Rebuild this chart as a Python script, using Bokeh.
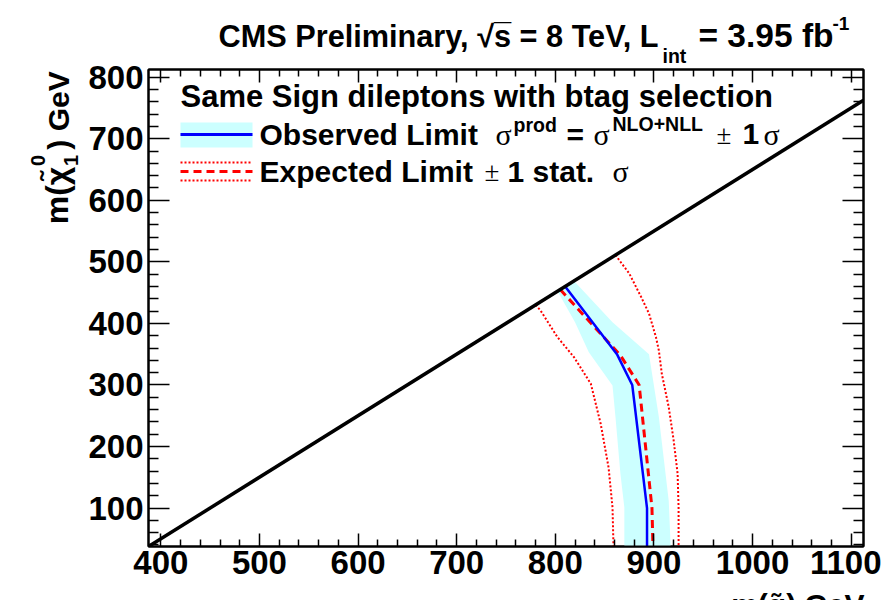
import math

from bokeh.plotting import figure
from bokeh.layouts import column, row
from bokeh.models import Range1d, LinearAxis, FixedTicker, Label, Arrow
from bokeh.embed import file_html
from bokeh.resources import INLINE

# ---------------------------------------------------------------- data (GeV)
x_range_gev = [387.5, 1112.5]          # m(gluino)
y_range_gev = [37.5, 812.5]            # m(neutralino)

x_major_ticks = [400, 500, 600, 700, 800, 900, 1000, 1100]
y_major_ticks = [100, 200, 300, 400, 500, 600, 700, 800]

# kinematic boundary m(gluino) - m(neutralino) = 350 GeV
diag_x = [387.5, 1112.5]
diag_y = [37.5, 762.5]

# observed limit
obs_x = [810, 862.5, 878, 893, 893]
obs_y = [460, 350, 300, 100, 37.5]

# observed limit, theory +-1 sigma band (low / high mass edges)
band_lo_x = [802, 820, 834, 858, 861, 866, 870, 870]
band_lo_y = [453, 402, 353, 299, 248, 156, 101, 37.5]
band_hi_x = [819, 858, 895, 905, 915, 917]
band_hi_y = [469, 402, 350, 248, 112, 37.5]

# expected limit and its +-1 sigma (stat.) contours
exp_x = [805, 866, 885, 898, 899]
exp_y = [455, 348, 300, 100, 37.5]

exp_dn_x = [780, 785, 802, 819, 836, 846, 854, 858, 859]
exp_dn_y = [430, 421, 378, 345, 302, 237, 166, 101, 37.5]

exp_up_x = [861, 875, 887, 895, 902, 905, 908, 915, 920, 924, 925, 925]
exp_up_y = [511, 481, 443, 416, 378, 356, 318, 264, 210, 156, 101, 37.5]

# ---------------------------------------------------------------- layout
W, H = 881, 600
FL, FR, FT, FB = 148, 863, 69, 546     # plot frame edges on the page
TOP_H = 64                             # header strip
BOT_H = 10                             # strip holding the x title
LEFT_W = 80                            # strip holding the y title
MAIN_H = H - TOP_H - BOT_H
MAIN_W = W - LEFT_W

BAND_COLOR = "#ccffff"
SANS = "Liberation Sans"
SERIF = "Liberation Serif"
MID = 0.35                             # baseline sits this many em below the text centre


def text_strip(width, height):
    f = figure(width=width, height=height, x_range=Range1d(0, 1), y_range=Range1d(0, 1),
               x_axis_type=None, y_axis_type=None, output_backend="svg",
               toolbar_location=None, min_border=0)
    f.outline_line_color = None
    f.background_fill_color = "white"
    f.border_fill_color = "white"
    return f


p = figure(width=MAIN_W, height=MAIN_H,
           x_range=Range1d(*x_range_gev), y_range=Range1d(*y_range_gev),
           x_axis_type=None, y_axis_type=None,
           output_backend="svg", toolbar_location=None,
           min_border_left=FL - LEFT_W, min_border_right=W - FR,
           min_border_top=FT - TOP_H, min_border_bottom=TOP_H + MAIN_H - FB)
p.background_fill_color = "white"
p.border_fill_color = "white"
p.outline_line_color = "black"
p.outline_line_width = 2


def minor_from(major, lo, hi, step=20):
    vals = []
    v = major[0] - 100
    while v <= major[-1] + 100:
        if lo <= v <= hi and v not in major:
            vals.append(v)
        v += step
    return vals


def make_axis(major, minor, tick_major, tick_minor, labels, standoff=6):
    ax = LinearAxis(ticker=FixedTicker(ticks=major, minor_ticks=minor))
    ax.axis_line_color = "black"
    ax.axis_line_width = 2
    ax.major_tick_in = tick_major
    ax.major_tick_out = 0
    ax.minor_tick_in = tick_minor
    ax.minor_tick_out = 0
    ax.major_tick_line_color = "black"
    ax.major_tick_line_width = 1.5
    ax.minor_tick_line_color = "black"
    ax.minor_tick_line_width = 1.5
    ax.axis_label = None
    if labels:
        ax.major_label_text_font = SANS
        ax.major_label_text_font_style = "bold"
        ax.major_label_text_font_size = "33px"
        ax.major_label_text_color = "black"
        ax.major_label_standoff = standoff
    else:
        ax.major_label_text_font_size = "0px"
        ax.major_label_text_alpha = 0
        ax.major_label_standoff = 0
    return ax


x_minor = minor_from(x_major_ticks, *x_range_gev)
y_minor = minor_from(y_major_ticks, *y_range_gev)

p.add_layout(make_axis(x_major_ticks, x_minor, 13, 7, True, 4), "below")
p.add_layout(make_axis(x_major_ticks, x_minor, 13, 7, False), "above")
p.add_layout(make_axis(y_major_ticks, y_minor, 21, 10, True, 5), "left")
p.add_layout(make_axis(y_major_ticks, y_minor, 21, 10, False), "right")

# ---------------------------------------------------------------- curves
p.patch(band_lo_x + band_hi_x[::-1], band_lo_y + band_hi_y[::-1],
        fill_color=BAND_COLOR, line_color=None)
p.line(exp_dn_x, exp_dn_y, line_color="red", line_width=2, line_dash="2 2")
p.line(exp_up_x, exp_up_y, line_color="red", line_width=2, line_dash="2 2")
p.line(exp_x, exp_y, line_color="red", line_width=3, line_dash="8 5")
p.line(obs_x, obs_y, line_color="blue", line_width=2.5)
p.line(diag_x, diag_y, line_color="black", line_width=3.5)


# ---------------------------------------------------------------- texts
class Writer:
    """Places labels from page pixel positions (x right, y down)."""

    def __init__(self, fig, left, bottom):
        self.fig, self.left, self.bottom = fig, left, bottom

    def put(self, text, X, Y, size, bold=True, serif=False, align="left"):
        # (X, Y) is the start (or end) of the baseline
        self.fig.add_layout(Label(
            x=X - self.left, y=self.bottom - (Y - MID * size),
            x_units="screen", y_units="screen",
            text=text, text_font=SERIF if serif else SANS,
            text_font_style="bold" if bold else "normal",
            text_font_size=f"{size}px", text_align=align,
            text_baseline="middle", text_color="black"))

    def put_up(self, text, X, Yc, size, bold=True):
        # text read bottom-to-top; X is the baseline, Yc the middle of the run
        self.fig.add_layout(Label(
            x=(X - MID * size) - self.left, y=self.bottom - Yc,
            x_units="screen", y_units="screen",
            text=text, text_font=SANS,
            text_font_style="bold" if bold else "normal",
            text_font_size=f"{size}px", text_align="center",
            text_baseline="middle", text_color="black", angle=math.pi / 2))

    def hline(self, X0, X1, Y, color, width, dash):
        self.fig.add_layout(Arrow(
            end=None, x_start=X0 - self.left, y_start=self.bottom - Y,
            x_end=X1 - self.left, y_end=self.bottom - Y,
            start_units="screen", end_units="screen",
            line_color=color, line_width=width, line_dash=dash, line_cap="butt"))


top = text_strip(W, TOP_H)
side = text_strip(LEFT_W, MAIN_H)
bottom = text_strip(W, BOT_H)

head = Writer(top, 0, TOP_H)
ylab = Writer(side, 0, FB)      # the side strip's frame lines up with the plot frame
xlab = Writer(bottom, 0, H)
leg = Writer(p, FL, FB)

# header
head.put("CMS Preliminary, \u221as\u0305 = 8 TeV, L", 218, 47, 30.7)
head.put("int", 662, 62, 19.5)
head.put("= 3.95 fb", 698, 47, 33.5)
head.put("-1", 832, 30, 19)

# axis titles
xlab.put("m(g\u0303) GeV", 864, 612, 30, align="right")
ylab.put_up(") GeV", 68, 110, 30)
ylab.put_up("0", 44, 160, 20)
ylab.put_up("1", 77, 160, 20)
ylab.put_up("m(\u03c7\u0303", 68, 195, 32)

# legend header and entries
leg.put("Same Sign dileptons with btag selection", 180, 107, 31)

leg.put("Observed Limit", 259, 144, 30)
leg.put("\u03c3", 495, 144, 30, bold=False, serif=True)
leg.put("prod", 513, 131, 19.5)
leg.put("=", 566, 144, 30)
leg.put("\u03c3", 593, 144, 30, bold=False, serif=True)
leg.put("NLO+NLL", 612, 130, 19.5)
leg.put("\u00b1", 716, 144, 27, bold=False, serif=True)
leg.put("1", 742, 144, 30)
leg.put("\u03c3", 763, 144, 30, bold=False, serif=True)

leg.put("Expected Limit", 259, 181, 30)
leg.put("\u00b1", 484, 181, 27, bold=False, serif=True)
leg.put("1 stat.", 507, 181, 30)
leg.put("\u03c3", 612, 181, 30, bold=False, serif=True)

# legend keys
leg.hline(180, 252, 134.5, BAND_COLOR, 25, "solid")
leg.hline(180, 252, 134, "blue", 3, "solid")
leg.hline(180, 252, 162, "red", 2, "2 2")
leg.hline(180, 252, 171, "red", 3, "8 5")
leg.hline(180, 252, 180, "red", 2, "2 2")

layout = column(top, row(side, p), bottom)
open("out.html", "w").write(file_html(layout, INLINE))
